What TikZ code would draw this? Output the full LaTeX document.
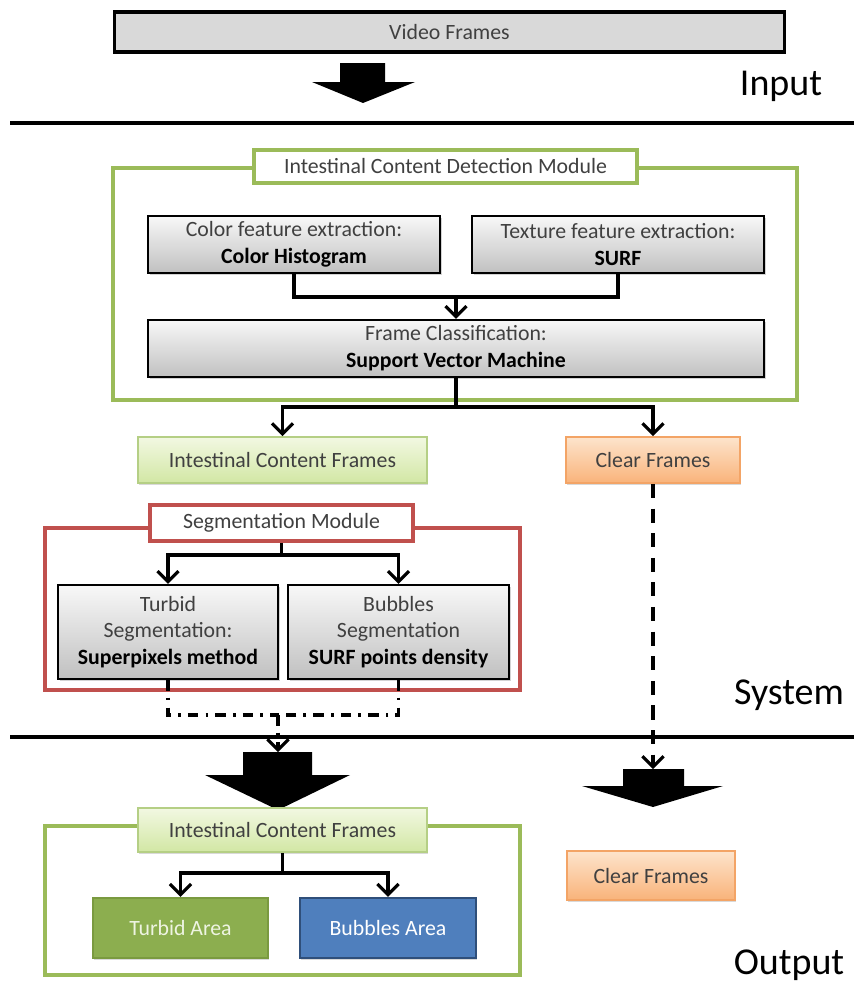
\documentclass[tikz,border=0pt]{standalone}
\usepackage{fontspec}
\setmainfont{Carlito}
\usetikzlibrary{arrows.meta,shadows}

\definecolor{modgreen}{HTML}{9BBB59}
\definecolor{modred}{HTML}{C0504D}
\definecolor{grayTop}{HTML}{F8F8F8}
\definecolor{grayBot}{HTML}{C0C0C0}
\definecolor{vfgray}{HTML}{D9D9D9}
\definecolor{txtgray}{HTML}{404040}
\definecolor{lgTop}{HTML}{F2F8E2}
\definecolor{lgBot}{HTML}{D2E7A4}
\definecolor{lgLine}{HTML}{B5CF85}
\definecolor{orTop}{HTML}{FDE4CC}
\definecolor{orBot}{HTML}{F9B37A}
\definecolor{orLine}{HTML}{F3A466}
\definecolor{taFill}{HTML}{8CAE4F}
\definecolor{taLine}{HTML}{7A9A40}
\definecolor{taText}{HTML}{EEF4E2}
\definecolor{baFill}{HTML}{4F7FBD}
\definecolor{baLine}{HTML}{2F4F7A}

\tikzset{
  boxbase/.style={rectangle, inner sep=0pt, align=center,
    font=\fontsize{6.2}{7.6}\selectfont, text=txtgray},
  graybox/.style={boxbase, draw=black, line width=0.6pt,
    top color=grayTop, bottom color=grayBot,
    drop shadow={opacity=0.35, shadow xshift=0.5pt, shadow yshift=-0.7pt}},
  framebox/.style={boxbase, draw=black, line width=0.9pt, fill=vfgray},
  greenbox/.style={boxbase, draw=lgLine, line width=0.5pt,
    top color=lgTop, bottom color=lgBot,
    drop shadow={opacity=0.3, shadow xshift=0.4pt, shadow yshift=-0.7pt}},
  orangebox/.style={boxbase, draw=orLine, line width=0.5pt,
    top color=orTop, bottom color=orBot,
    drop shadow={opacity=0.3, shadow xshift=0.4pt, shadow yshift=-0.7pt}},
  areabox/.style={boxbase, line width=0.7pt,
    drop shadow={opacity=0.3, shadow xshift=0.4pt, shadow yshift=-0.7pt}},
  modtitle/.style={boxbase, fill=white, line width=1pt},
  modframe/.style={line width=1pt},
  conn/.style={line width=0.9pt, draw=black},
  arr/.style={conn, -{Straight Barb[length=3pt,width=6pt,line width=0.9pt]}},
  dashconn/.style={conn, dash pattern=on 4pt off 3pt},
  dotconn/.style={conn, dash pattern=on 3pt off 2pt on 0.8pt off 2pt},
  blockarrow/.style={fill=black},
  sepline/.style={line width=1pt, draw=black},
  section/.style={font=\fontsize{10.8}{12}\selectfont, text=black, inner sep=0pt}
}

\begin{document}
\begin{tikzpicture}[x=0.01cm, y=-0.01cm]
\useasboundingbox (0,0) rectangle (854,1000);

% ---------------- Input ----------------
\node[framebox, minimum width=6.69cm, minimum height=0.40cm] (vf) at (449.5,32) {Video Frames};
\fill[blockarrow] (340,63) -- (385,63) -- (385,82) -- (415,82) -- (363,103)
  -- (312,82) -- (340,82) -- cycle;
\node[section] (lin) at (781,86) {Input};
\draw[sepline] (10,123) -- (854,123);

% ---------------- System ----------------
% intestinal content detection module
\draw[modframe, draw=modgreen] (113,168) rectangle (797,400);
\node[modtitle, draw=modgreen, minimum width=3.83cm, minimum height=0.33cm] (icdm) at (445.5,166.5)
  {Intestinal Content Detection Module};

\node[graybox, minimum width=2.92cm, minimum height=0.57cm] (color) at (294,244.5)
  {Color feature extraction:\\ \textcolor{black}{\textbf{Color Histogram}}};
\node[graybox, minimum width=2.92cm, minimum height=0.57cm] (texture) at (618,244.5)
  {Texture feature extraction:\\ \textcolor{black}{\textbf{SURF}}};
\node[graybox, minimum width=6.16cm, minimum height=0.57cm] (fc) at (456,348.5)
  {Frame Classification:\\ \textcolor{black}{\textbf{Support Vector Machine}}};

\coordinate (j1) at (456,297);
\draw[conn] (color.south) |- (j1);
\draw[conn] (texture.south) |- (j1);
\draw[arr] (j1) -- (fc.north);

\node[greenbox, minimum width=2.89cm, minimum height=0.46cm] (icf) at (282.5,460)
  {Intestinal Content Frames};
\node[orangebox, minimum width=1.74cm, minimum height=0.46cm] (cf) at (653,460)
  {Clear Frames};

\coordinate (j2) at (456,407);
\draw[conn] (fc.south) -- (j2);
\draw[arr] (j2) -| (icf.north);
\draw[arr] (j2) -| (cf.north);

% segmentation module
\draw[modframe, draw=modred] (45,528) rectangle (520,690);
\node[modtitle, draw=modred, minimum width=2.63cm, minimum height=0.36cm] (seg) at (281.5,523)
  {Segmentation Module};

\node[graybox, minimum width=2.20cm, minimum height=0.94cm] (turbid) at (168,632)
  {Turbid\\ Segmentation:\\ \textcolor{black}{\textbf{Superpixels method}}};
\node[graybox, minimum width=2.21cm, minimum height=0.94cm] (bubbles) at (398.5,632)
  {Bubbles\\ Segmentation\\ \textcolor{black}{\textbf{SURF points density}}};

\coordinate (j3) at (281.5,555);
\draw[conn] (seg.south) -- (j3);
\draw[arr] (j3) -| (turbid.north);
\draw[arr] (j3) -| (bubbles.north);

% merging the segmentation results
\coordinate (j4) at (278,715);
\draw[dotconn] (turbid.south) |- (j4);
\draw[dotconn] (bubbles.south) |- (j4);

\node[section] (lsys) at (789,695) {System};
\draw[sepline] (10,737) -- (854,737);

% block arrows into the output section
\fill[blockarrow] (243,752) -- (312,752) -- (312,775) -- (350,775) -- (278,810)
  -- (205,775) -- (243,775) -- cycle;
\coordinate (a2) at (278,752);
\fill[blockarrow] (623,769) -- (684,769) -- (684,786) -- (723,786) -- (653,807)
  -- (582,786) -- (623,786) -- cycle;
\coordinate (a3) at (653,769);

\draw[dotconn, -{Straight Barb[length=3pt,width=6pt,line width=0.9pt]}] (j4) -- (a2);
\draw[dashconn, -{Straight Barb[length=3pt,width=6pt,line width=0.9pt]}] (cf.south) -- (a3);

% ---------------- Output ----------------
\draw[modframe, draw=modgreen] (45,826) rectangle (520,975);
\node[greenbox, minimum width=2.89cm, minimum height=0.44cm] (icf2) at (282.5,830)
  {Intestinal Content Frames};
\node[areabox, draw=taLine, fill=taFill, text=taText, minimum width=1.75cm, minimum height=0.60cm] (ta)
  at (180.5,928) {Turbid Area};
\node[areabox, draw=baLine, fill=baFill, text=white, minimum width=1.76cm, minimum height=0.60cm] (ba)
  at (388,928) {Bubbles Area};

\coordinate (j5) at (282.5,873);
\draw[conn] (icf2.south) -- (j5);
\draw[arr] (j5) -| (ta.north);
\draw[arr] (j5) -| (ba.north);

\node[orangebox, minimum width=1.68cm, minimum height=0.49cm] (cf2) at (651,875.5)
  {Clear Frames};

\node[section] (lout) at (789,965) {Output};
\end{tikzpicture}
\end{document}
